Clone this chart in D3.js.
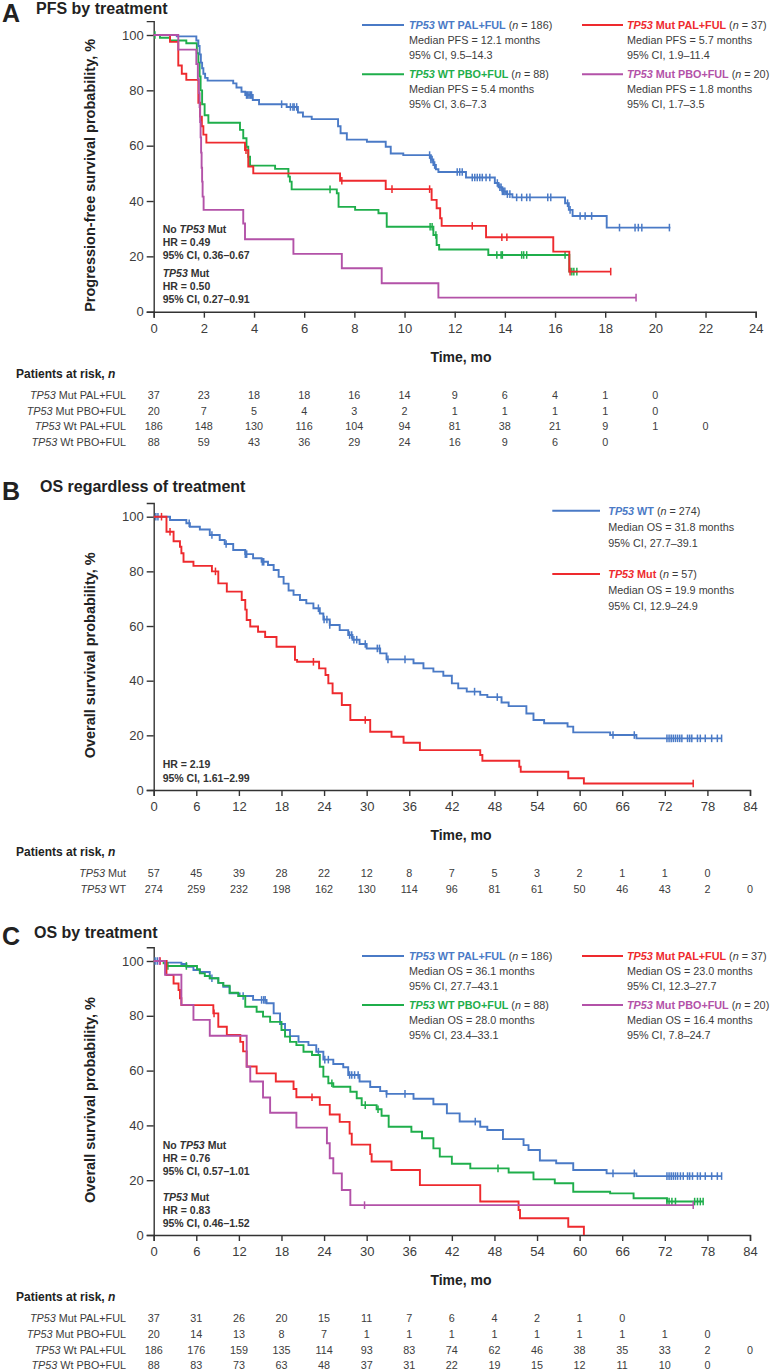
<!DOCTYPE html>
<html><head><meta charset="utf-8">
<script src="https://cdn.jsdelivr.net/npm/d3@7"></script>
<style>body{margin:0;background:#fff} svg{display:block}</style>
</head><body>
<script>
// ================= DATA =================
// ---- Panel A: PFS by treatment (time in months, survival %) ----
const pfsWtPal = [[0,100],[0.92,99.5],[1.7,98],[1.78,96],[1.83,93],[1.88,90],[1.93,88],[1.98,86],[2.05,84.5],[2.15,83.5],[3.17,82.5],[3.3,81],[3.5,79.5],[3.65,78.3],[3.95,76.5],[4.2,75],[5.3,74],[5.75,72],[5.95,70.5],[6.3,69.6],[7.35,67],[7.45,64.5],[7.7,62.2],[8.5,61.4],[9.25,59.6],[9.45,57.2],[9.95,56.6],[11.05,55],[11.15,53],[11.25,51.5],[11.35,50.5],[12.45,48.5],[13.6,46.5],[13.75,45],[13.9,43.5],[14.05,42.5],[14.3,41.3],[16.4,39.2],[16.55,36.8],[16.7,34.6],[18.06,30.4]];
const pfsWtPalCens = [3.7,3.75,3.8,3.85,3.9,5.1,5.45,5.55,5.6,5.7,11.0,11.05,11.1,11.2,12.1,12.2,12.3,12.7,12.8,12.9,13.0,13.1,13.25,13.4,13.7,13.8,13.85,13.9,13.95,14.0,14.1,14.2,14.47,14.67,14.87,15.0,15.71,15.83,16.5,16.6,17.0,17.2,17.46,18.57,19.19,19.32,19.46,20.56];
const pfsWtPalEnd = 20.6;

const pfsMutPal = [[0,100],[0.65,97.5],[0.98,89],[1.12,86],[1.3,83.8],[1.78,75.5],[1.85,70.5],[1.92,67],[1.98,64],[2.1,61.1],[3.64,58.4],[3.77,52.5],[3.97,50],[7.43,47.3],[9.25,44.3],[11.08,40.4],[11.28,37.4],[11.42,33.8],[11.48,31],[13.25,26.9],[15.93,21.7],[16.57,14.5]];
const pfsMutPalCens = [3.68,7.5,9.5,11.0,12.7,13.88,14.08,16.6,18.22];
const pfsMutPalEnd = 18.22;

const pfsWtPbo = [[0,100],[0.25,99],[0.65,98],[1.3,97],[1.72,93.4],[1.78,90],[1.83,85],[1.87,80],[1.93,75],[2.03,71],[2.18,68.3],[3.44,65.7],[3.57,62.7],[3.7,59.6],[3.77,56],[3.84,52.8],[4.84,51.6],[5.37,48.8],[5.43,47],[5.5,44.2],[7.3,42.8],[7.37,37.9],[8.03,36.8],[8.96,35.6],[9.29,30.7],[11.15,27.7],[11.28,24.1],[11.38,22.5],[13.34,20.5],[16.57,14.5]];
const pfsWtPboCens = [0.05,7.03,11.02,11.1,11.25,13.68,13.85,13.9,14.67,14.75,14.87,16.4,16.67,16.75,16.87];
const pfsWtPboEnd = 16.9;

const pfsMutPbo = [[0,100],[0.98,94.7],[1.7,89.5],[1.76,84],[1.8,79],[1.83,74],[1.85,68.5],[1.87,63],[1.89,57.5],[1.91,52],[1.93,47],[1.95,41.6],[1.99,36.8],[3.57,31.9],[3.64,26.2],[5.57,20.9],[7.5,15.7],[9.09,10.3],[11.35,5.1]];
const pfsMutPboCens = [19.23];
const pfsMutPboEnd = 19.23;

const pfsLegendArms = ['WT PAL+FUL','Mut PAL+FUL','WT PBO+FUL','Mut PBO+FUL'];
const pfsLegendN = [186,37,88,20];
const pfsMedians = ['12.1','5.7','5.4','1.8'];
const pfsCIs = ['9.5–14.3','1.9–11.4','3.6–7.3','1.7–3.5'];
const pfsHR = [['No ','TP53',' Mut'],'HR = 0.49','95% CI, 0.36–0.67',['','TP53',' Mut'],'HR = 0.50','95% CI, 0.27–0.91'];

const pfsTicks = [0,2,4,6,8,10,12,14,16,18,20,22,24];
const pfsRiskLabels = [['TP53',' Mut PAL+FUL'],['TP53',' Mut PBO+FUL'],['TP53',' Wt PAL+FUL'],['TP53',' Wt PBO+FUL']];
const pfsRisk = [
  [37,23,18,18,16,14,9,6,4,1,0],
  [20,7,5,4,3,2,1,1,1,1,0],
  [186,148,130,116,104,94,81,38,21,9,1,0],
  [88,59,43,36,29,24,16,9,6,0]
];

// ---- Panel B: OS regardless of treatment ----
const osWt = [[0,100],[2.3,98.8],[4.6,97.6],[5.1,96.3],[6.5,95.3],[7.9,93.3],[9.3,91.5],[10.0,90],[11.2,87.8],[12.9,86.3],[14.0,84.8],[15.2,83.5],[16.1,82.3],[16.9,80.5],[17.6,78],[18.3,75.5],[19.0,73],[19.7,71.4],[20.6,69.5],[21.5,68.3],[22.5,66.5],[23.4,64.6],[23.9,62.4],[24.8,60.4],[26.2,58.5],[27.4,56.7],[28.0,55],[29.0,53.4],[30.0,51.8],[31.9,50],[32.8,47.8],[36.6,46.4],[38.0,44.5],[39.4,43.3],[40.8,41.8],[42.0,39],[42.9,37.2],[44.1,36],[46.0,34.8],[47.0,34],[49.0,32],[50.0,30.7],[52.5,28],[53.5,25.6],[55.0,24.4],[58.3,23.2],[59.1,21.1],[64.3,20.1],[68.0,18.9]];
const osWtCens = [0.3,0.6,5.0,8.2,10.2,12.9,13.1,15.3,15.5,23.2,24.0,24.4,24.8,27.6,27.9,28.2,28.6,29.8,31.5,31.8,33.0,35.4,45.2,48.4,64.7,67.7,72.3,72.6,72.9,73.2,73.5,73.8,74.1,74.4,75.2,75.5,75.8,76.6,77.0,77.7,78.6,79.4,80.0];
const osWtEnd = 80.0;

const osMut = [[0,100],[1.8,94.5],[2.8,91],[3.7,89],[3.9,86.6],[4.2,83.5],[5.6,82],[8.2,80],[9.1,75.6],[10.3,72.6],[12.4,69.5],[12.9,66],[13.1,62.2],[13.6,59.8],[14.7,57.9],[15.7,56],[17.3,52.4],[19.9,47.6],[20.2,46.9],[23.3,44.5],[24.2,42.1],[24.6,39],[25.2,35.4],[26.5,31.1],[27.7,25.6],[30.5,21.3],[33.5,19.5],[35.2,17.3],[37.5,14.6],[46.0,12.8],[46.3,10.7],[51.5,8.5],[51.7,6.7],[58.4,4.3],[60.6,2.4]];
const osMutCens = [1.1,2.3,8.7,22.5,29.8,76.0];
const osMutEnd = 76.0;

const osLegendArms = ['WT','Mut'];
const osLegendN = [274,57];
const osMedians = ['31.8','19.9'];
const osCIs = ['27.7–39.1','12.9–24.9'];
const osHR = ['HR = 2.19','95% CI, 1.61–2.99'];

const osTicks = [0,6,12,18,24,30,36,42,48,54,60,66,72,78,84];
const osRiskLabels = [['TP53',' Mut'],['TP53',' WT']];
const osRisk = [
  [57,45,39,28,22,12,8,7,5,3,2,1,1,0],
  [274,259,232,198,162,130,114,96,81,61,50,46,43,2,0]
];

// ---- Panel C: OS by treatment ----
const ostWtPal = [[0,100],[1.8,99.4],[3.9,98.9],[4.6,97.9],[5.6,96.7],[6.5,96],[7.9,93.7],[9.1,92],[9.8,90.6],[10.7,88.2],[12.1,87.2],[14.0,85.8],[15.9,84.6],[16.9,80.9],[17.8,77],[18.5,74.8],[19.2,72.6],[20.4,70.5],[21.8,69.3],[22.9,66.9],[23.9,64],[25.3,62.4],[26.7,61.2],[27.4,58.4],[29.0,56],[30.5,54],[31.9,52.5],[32.8,51.5],[36.6,49.7],[39.4,47.7],[41.3,44.4],[43.1,41.4],[46.0,39.5],[47.0,38.3],[49.2,35],[52.1,32.8],[52.8,31],[54.4,27.2],[56.7,26.2],[59.1,23.7],[63.8,22.5],[68.0,21.5]];
const ostWtPalCens = [0.2,0.5,8.2,12.6,15.2,15.5,15.7,23.2,24.1,24.6,27.6,27.9,28.3,28.8,32.8,35.4,45.3,64.7,67.7,72.3,72.6,72.9,73.2,73.5,73.8,74.2,74.6,75.2,75.5,75.9,76.6,77.0,77.7,78.6,79.4,80.0];
const ostWtPalEnd = 80.0;

const ostMutPal = [[0,100],[1.8,94.9],[2.8,91.8],[3.5,89.4],[3.7,86.4],[3.9,83.9],[8.4,80.9],[9.1,76],[10.3,73],[12.2,70.5],[12.6,67],[13.1,61.5],[14.5,59],[17.2,56],[19.7,53.3],[20.1,50.3],[23.4,47.5],[24.8,44],[26.2,41.3],[27.6,37],[27.9,33],[30.5,29.5],[30.7,26.8],[33.5,23.7],[37.5,18.2],[46.0,12.2],[51.4,9.1],[51.6,6.1],[58.4,3.0],[60.6,0]];
const ostMutPalCens = [0.9,8.5,22.3];
const ostMutPalEnd = 60.6;

const ostWtPbo = [[0,100],[1.4,99.2],[1.8,98.2],[6.1,97],[6.5,95.5],[7.2,94.5],[7.9,93.7],[9.1,92],[9.8,91],[10.7,88.4],[11.9,87.2],[12.9,83.3],[14.5,81.5],[15.4,79.7],[16.4,77.8],[18.0,74.8],[18.5,72.4],[19.2,70.5],[20.1,69.3],[21.1,66.9],[22.3,65.7],[23.4,61.4],[23.9,57.8],[24.6,55.4],[25.3,54.1],[27.7,52.3],[28.6,49.9],[29.3,47.4],[31.4,45.9],[32.1,43.5],[33.1,39.5],[36.3,37.7],[37.8,35.3],[39.4,31.6],[40.3,28.6],[42.0,26],[44.6,24.3],[50.0,22.8],[53.5,20.3],[56.5,18.9],[59.1,15.8],[64.3,15.2],[67.6,13.4],[72.3,12.2]];
const ostWtPboCens = [2.0,4.6,25.1,29.8,31.6,48.5,72.3,72.6,73.0,73.5,76.2,76.6,77.0,77.4];
const ostWtPboEnd = 77.4;

const ostMutPbo = [[0,100],[1.6,95],[3.9,84],[5.6,78.5],[7.9,72.7],[13.1,61.4],[13.6,56],[15.4,50.2],[16.4,44.6],[20.1,39.2],[24.4,33.5],[24.8,28],[25.3,22.5],[26.5,16.4],[27.7,10.9]];
const ostMutPboCens = [0.8,29.7,76.0];
const ostMutPboEnd = 76.0;

const ostLegendArms = ['WT PAL+FUL','Mut PAL+FUL','WT PBO+FUL','Mut PBO+FUL'];
const ostLegendN = [186,37,88,20];
const ostMedians = ['36.1','23.0','28.0','16.4'];
const ostCIs = ['27.7–43.1','12.3–27.7','23.4–33.1','7.8–24.7'];
const ostHR = [['No ','TP53',' Mut'],'HR = 0.76','95% CI, 0.57–1.01',['','TP53',' Mut'],'HR = 0.83','95% CI, 0.46–1.52'];

const ostRiskLabels = [['TP53',' Mut PAL+FUL'],['TP53',' Mut PBO+FUL'],['TP53',' Wt PAL+FUL'],['TP53',' Wt PBO+FUL']];
const ostRisk = [
  [37,31,26,20,15,11,7,6,4,2,1,0],
  [20,14,13,8,7,1,1,1,1,1,1,1,1,0],
  [186,176,159,135,114,93,83,74,62,46,38,35,33,2,0],
  [88,83,73,63,48,37,31,22,19,15,12,11,10,0]
];

// ================= STYLE / LAYOUT =================
const C_BLUE = '#4a7ac6', C_RED = '#ee2a2e', C_GREEN = '#1fae4b', C_MAG = '#b352a8';
const TXT = '#3c3c3c', AX = '#333';
const FONT = "'Liberation Sans', Arial, Helvetica, sans-serif";

const svg = d3.select('body').append('svg').attr('width', 770).attr('height', 1370)
  .style('font-family', FONT);

function valAt(steps, t) {
  let v = 100;
  for (const s of steps) { if (s[0] <= t) v = s[1]; else break; }
  return v;
}

function richText(g, x, y, parts, opts) {
  // parts: array of {t, it, b, c}
  const t = g.append('text').attr('x', x).attr('y', y)
    .attr('font-size', opts.size).attr('fill', opts.fill || TXT)
    .attr('text-anchor', opts.anchor || 'start');
  if (opts.weight) t.attr('font-weight', opts.weight);
  parts.forEach(p => {
    const s = t.append('tspan').text(p.t);
    if (p.it) s.attr('font-style', 'italic');
    if (p.b) s.attr('font-weight', 'bold');
    if (p.c) s.attr('fill', p.c);
  });
  return t;
}

function drawPanel(p) {
  const g = svg.append('g');
  const x = d3.scaleLinear().domain([0, p.xMax]).range([153.7, p.xRight]);
  const yPer = (p.y0 - p.y100) / 100;
  const y = d3.scaleLinear().domain([0, 105]).range([p.y0, p.y0 - 105 * yPer]);

  // Panel letter + title
  g.append('text').attr('x', 2).attr('y', p.titleY + 7.5).attr('font-size', 25)
    .attr('font-weight', 'bold').attr('fill', '#222').text(p.letter);
  g.append('text').attr('x', p.titleX).attr('y', p.titleY).attr('font-size', 16)
    .attr('font-weight', 'bold').attr('fill', '#222').text(p.title);

  // axes
  const ya = g.append('g').attr('transform', 'translate(153.7,0)')
    .call(d3.axisLeft(y).tickValues([0,20,40,60,80,100]).tickSizeOuter(0).tickSize(7).tickPadding(3));
  const xa = g.append('g').attr('transform', `translate(0,${p.y0})`)
    .call(d3.axisBottom(x).tickValues(p.ticks).tickSizeOuter(0).tickSize(6).tickPadding(6));
  [ya, xa].forEach(a => {
    a.select('.domain').attr('stroke', AX).attr('stroke-width', 1.4);
    a.selectAll('.tick line').attr('stroke', AX).attr('stroke-width', 1.4);
    a.selectAll('.tick text').attr('font-size', 13).attr('fill', TXT).attr('font-family', FONT);
  });

  // y title
  g.append('text').attr('transform', `translate(95,${(p.y0 + p.y100) / 2 + 2}) rotate(-90)`)
    .attr('text-anchor', 'middle').attr('font-size', 14.5).attr('font-weight', 'bold')
    .attr('fill', '#222').text(p.yTitle);
  // x title
  g.append('text').attr('x', 461).attr('y', p.y0 + 50).attr('text-anchor', 'middle')
    .attr('font-size', 14).attr('font-weight', 'bold').attr('fill', '#222').text('Time, mo');

  // curves
  const line = d3.line().x(d => x(d[0])).y(d => y(d[1])).curve(d3.curveStepAfter);
  p.curves.forEach(c => {
    const pts = c.steps.concat([[c.end, c.steps[c.steps.length - 1][1]]]);
    g.append('path').attr('d', line(pts)).attr('fill', 'none').attr('stroke', c.color)
      .attr('stroke-width', 1.9);
    g.selectAll(null).data(c.cens).enter().append('line')
      .attr('x1', t => x(t)).attr('x2', t => x(t))
      .attr('y1', t => y(valAt(c.steps, t)) - 3.8).attr('y2', t => y(valAt(c.steps, t)) + 3.8)
      .attr('stroke', c.color).attr('stroke-width', 1.5);
  });

  // legend
  p.legend.forEach(L => {
    g.append('line').attr('x1', L.x1).attr('x2', L.x2).attr('y1', L.y).attr('y2', L.y)
      .attr('stroke', L.color).attr('stroke-width', 2);
    richText(g, L.tx, L.y + 4, [
      {t: 'TP53', it: true, b: true, c: L.color},
      {t: ' ' + L.arm, b: true, c: L.color},
      {t: ' ('}, {t: 'n', it: true}, {t: ' = ' + L.n + ')'}
    ], {size: 10.8});
    richText(g, L.tx, L.y + 4 + L.dy, [{t: `Median ${p.endpoint} = ${L.med} months`}], {size: 10.8});
    richText(g, L.tx, L.y + 4 + 2 * L.dy, [{t: '95% CI, ' + L.ci}], {size: 10.8});
  });

  // HR annotations
  p.hr.forEach((h, i) => {
    const parts = Array.isArray(h)
      ? [{t: h[0]}, {t: h[1], it: true}, {t: h[2]}]
      : [{t: h}];
    richText(g, 162.7, p.hrY[i] + 3.8, parts, {size: 10.5, weight: 'bold', fill: '#333'});
  });

  // risk table
  richText(g, 16, p.y0 + 66, [{t: 'Patients at risk, '}, {t: 'n', it: true}],
    {size: 12, weight: 'bold', fill: '#222'});
  p.risk.forEach((row, i) => {
    const ry = p.y0 + 83 + i * 15.8;
    richText(g, 126, ry + 4, [{t: p.riskLabels[i][0], it: true}, {t: p.riskLabels[i][1]}],
      {size: 10.8, anchor: 'end', fill: TXT});
    g.selectAll(null).data(row).enter().append('text')
      .attr('x', (d, j) => x(p.ticks[j])).attr('y', ry + 4)
      .attr('text-anchor', 'middle').attr('font-size', 10.8).attr('fill', TXT)
      .text(d => d);
  });
}

function fourLegend(arms, ns, meds, cis, y1, y2) {
  const colors = [C_BLUE, C_RED, C_GREEN, C_MAG];
  return arms.map((a, i) => ({
    arm: a, n: ns[i], med: meds[i], ci: cis[i], color: colors[i],
    x1: i % 2 === 0 ? 362 : 582, x2: i % 2 === 0 ? 404 : 623,
    tx: i % 2 === 0 ? 409 : 627, y: i < 2 ? y1 : y2, dy: 14.8
  }));
}

// Panel A
drawPanel({
  letter: 'A', title: 'PFS by treatment', titleX: 36, titleY: 14,
  y0: 311.7, y100: 35, xMax: 24, xRight: 755.7, ticks: pfsTicks,
  yTitle: 'Progression-free survival probability, %', endpoint: 'PFS',
  curves: [
    {steps: pfsWtPbo, cens: pfsWtPboCens, end: pfsWtPboEnd, color: C_GREEN},
    {steps: pfsWtPal, cens: pfsWtPalCens, end: pfsWtPalEnd, color: C_BLUE},
    {steps: pfsMutPal, cens: pfsMutPalCens, end: pfsMutPalEnd, color: C_RED},
    {steps: pfsMutPbo, cens: pfsMutPboCens, end: pfsMutPboEnd, color: C_MAG}
  ],
  legend: fourLegend(pfsLegendArms, pfsLegendN, pfsMedians, pfsCIs, 25, 74.3),
  hr: pfsHR, hrY: [229, 242, 255.5, 272.7, 285.7, 299.3],
  riskLabels: pfsRiskLabels, risk: pfsRisk
});

// Panel B
drawPanel({
  letter: 'B', title: 'OS regardless of treatment', titleX: 40, titleY: 492,
  y0: 790, y100: 516.7, xMax: 84, xRight: 750, ticks: osTicks,
  yTitle: 'Overall survival probability, %', endpoint: 'OS',
  curves: [
    {steps: osWt, cens: osWtCens, end: osWtEnd, color: C_BLUE},
    {steps: osMut, cens: osMutCens, end: osMutEnd, color: C_RED}
  ],
  legend: [
    {arm: osLegendArms[0], n: osLegendN[0], med: osMedians[0], ci: osCIs[0], color: C_BLUE,
     x1: 552.3, x2: 600, tx: 608.3, y: 510.7, dy: 16},
    {arm: osLegendArms[1], n: osLegendN[1], med: osMedians[1], ci: osCIs[1], color: C_RED,
     x1: 552.3, x2: 600, tx: 608.3, y: 574, dy: 16}
  ],
  hr: osHR, hrY: [764.3, 777.7],
  riskLabels: osRiskLabels, risk: osRisk
});

// Panel C
drawPanel({
  letter: 'C', title: 'OS by treatment', titleX: 34, titleY: 937.5,
  y0: 1235, y100: 961, xMax: 84, xRight: 750, ticks: osTicks,
  yTitle: 'Overall survival probability, %', endpoint: 'OS',
  curves: [
    {steps: ostWtPal, cens: ostWtPalCens, end: ostWtPalEnd, color: C_BLUE},
    {steps: ostWtPbo, cens: ostWtPboCens, end: ostWtPboEnd, color: C_GREEN},
    {steps: ostMutPal, cens: ostMutPalCens, end: ostMutPalEnd, color: C_RED},
    {steps: ostMutPbo, cens: ostMutPboCens, end: ostMutPboEnd, color: C_MAG}
  ],
  legend: fourLegend(ostLegendArms, ostLegendN, ostMedians, ostCIs, 956, 1005),
  hr: ostHR, hrY: [1145, 1157.7, 1171, 1196.7, 1210, 1222.7],
  riskLabels: ostRiskLabels, risk: ostRisk
});
</script>
</body></html>
